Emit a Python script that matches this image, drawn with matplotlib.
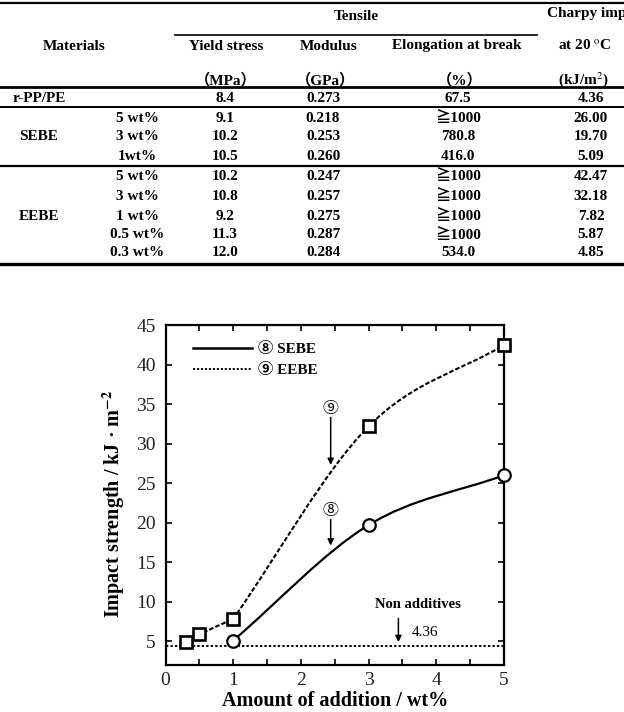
import numpy as np
import matplotlib
matplotlib.use('Agg')
import matplotlib.pyplot as plt
from matplotlib.path import Path
from matplotlib.patches import PathPatch
from matplotlib.lines import Line2D
from matplotlib.ticker import MultipleLocator

SERIF = ['Liberation Serif', 'Noto Sans CJK JP', 'DejaVu Sans']
plt.rcParams['font.family'] = SERIF
plt.rcParams['mathtext.fontset'] = 'stix'

# ---- table data ----
group_labels = ['r-PP/PE', 'SEBE', 'EEBE']
sub_labels = ['', '5 wt%', '3 wt%', '1wt%', '5 wt%', '3 wt%', '1 wt%', '0.5 wt%', '0.3 wt%']
yield_stress = ['8.4', '9.1', '10.2', '10.5', '10.2', '10.8', '9.2', '11.3', '12.0']
modulus = ['0.273', '0.218', '0.253', '0.260', '0.247', '0.257', '0.275', '0.287', '0.284']
elongation = ['67.5', '≧1000', '780.8', '416.0', '≧1000', '≧1000', '≧1000', '≧1000', '534.0']
charpy = ['4.36', '26.00', '19.70', '5.09', '42.47', '32.18', '7.82', '5.87', '4.85']

# ---- chart data ----
sebe_x = [1, 3, 5]
sebe_y = [5.09, 19.70, 26.00]
eebe_x = [0.3, 0.5, 1, 3, 5]
eebe_y = [4.85, 5.87, 7.82, 32.18, 42.47]
base_value = 4.36

W, H = 624, 712
fig = plt.figure(figsize=(W / 100, H / 100), dpi=100)


def ftxt(x, y, s, ha='center', size=11, weight='bold'):
    fig.text(x / W, 1 - y / H, s, ha=ha, va='center', fontsize=size,
             fontweight=weight, family=SERIF)


def hline(y, x0=0, x1=W, lw=1.5):
    fig.add_artist(Line2D([x0 / W, x1 / W], [1 - y / H, 1 - y / H],
                          color='black', lw=lw, transform=fig.transFigure))


# table lines
hline(3, lw=1.6)
hline(35, 175, 537, lw=1.2)
hline(87, lw=2.0)
hline(107, lw=1.4)
hline(166, lw=1.6)
hline(264, lw=2.4)

# headers (the Charpy header runs off the right edge, as in the source)
ftxt(356, 17, 'Tensile')
ftxt(547, 14, 'Charpy impact strength', ha='left')
ftxt(74, 46, 'Materials')
ftxt(226, 46, 'Yield stress')
ftxt(329, 46, 'Modulus')
ftxt(457, 46, 'Elongation at break')
ftxt(585, 46, 'at 20 $^{\\mathrm{o}}$C')
ftxt(226, 80, '（MPa）')
ftxt(325, 80, '（GPa）')
ftxt(460, 80, '（%）')
ftxt(583, 80, '(kJ/m$^{2}$)')

row_y = [99, 118, 137, 157, 176, 196, 216, 235, 253]
group_y = [99, 137, 216]
for g, gy in zip(group_labels, group_y):
    ftxt(39, gy, g)
for i, ry in enumerate(row_y):
    ftxt(137, ry, sub_labels[i])
    ftxt(225, ry, yield_stress[i])
    ftxt(323, ry, modulus[i])
    ftxt(458, ry, elongation[i])
    ftxt(591, ry, charpy[i])

# ---- chart ----
ax = fig.add_axes([165.5 / W, 47 / H, 338.5 / W, 340 / H])


def smooth_path(xs, ys):
    xs = np.asarray(xs, float)
    ys = np.asarray(ys, float)
    n = len(xs)
    m = np.empty(n)
    m[0] = (ys[1] - ys[0]) / (xs[1] - xs[0])
    m[-1] = (ys[-1] - ys[-2]) / (xs[-1] - xs[-2])
    m[1:-1] = (ys[2:] - ys[:-2]) / (xs[2:] - xs[:-2])
    verts = [(xs[0], ys[0])]
    codes = [Path.MOVETO]
    for i in range(n - 1):
        h = (xs[i + 1] - xs[i]) / 3
        verts += [(xs[i] + h, ys[i] + h * m[i]),
                  (xs[i + 1] - h, ys[i + 1] - h * m[i + 1]),
                  (xs[i + 1], ys[i + 1])]
        codes += [Path.CURVE4] * 3
    return Path(verts, codes)


eebe_dash = (0, (2.2, 1.0))
ax.add_patch(PathPatch(smooth_path(sebe_x, sebe_y), fill=False, lw=1.6,
                       ec='black', zorder=2))
# EEBE curve has a kink at 1 wt%
ax.add_patch(PathPatch(smooth_path(eebe_x[:3], eebe_y[:3]), fill=False, lw=1.5,
                       ec='black', ls=eebe_dash, zorder=2))
ax.add_patch(PathPatch(smooth_path(eebe_x[2:], eebe_y[2:]), fill=False, lw=1.5,
                       ec='black', ls=eebe_dash, zorder=2))
ax.plot(sebe_x, sebe_y, 'o', ms=9, mfc='white', mec='black', mew=1.6,
        zorder=3, clip_on=False)
ax.plot(eebe_x, eebe_y, 's', ms=8.5, mfc='white', mec='black', mew=1.9,
        zorder=3, clip_on=False)
ax.axhline(base_value, color='black', lw=1.4, ls=(0, (1.2, 1.1)), zorder=1)

ax.set_xlim(0, 5)
ax.set_ylim(2, 45)
ax.xaxis.set_major_locator(MultipleLocator(1))
ax.xaxis.set_minor_locator(MultipleLocator(0.5))
ax.set_yticks([5, 10, 15, 20, 25, 30, 35, 40, 45])
ax.tick_params(which='both', direction='in', top=True, right=True,
               length=4.5, width=1.2)
ax.tick_params(which='major', labelsize=14, labelcolor='#222222')
ax.tick_params(axis='y', pad=7)
ax.tick_params(axis='x', pad=5)
for s in ax.spines.values():
    s.set_linewidth(1.6)

ax.set_xlabel('Amount of addition / wt%', fontsize=14.5, fontweight='bold')
ax.set_ylabel('Impact strength / kJ · m$^{\\mathbf{-2}}$', fontsize=14.5,
              fontweight='bold')
ax.xaxis.set_label_coords(0.5, -0.075)
ax.yaxis.set_label_coords(-0.113, 0.475)

handles = [Line2D([], [], color='black', lw=1.8),
           Line2D([], [], color='black', lw=1.3, ls=(0, (1.2, 1.0)))]
ax.legend(handles, ['⑧ SEBE', '⑨ EEBE'], loc='upper left',
          bbox_to_anchor=(0.04, 0.99), frameon=False, handlelength=3.9,
          handletextpad=0.35, labelspacing=0.45,
          prop=dict(family=SERIF, weight='bold', size=11))

arrow = dict(arrowstyle='-|>', color='black', lw=1.1, mutation_scale=9,
             shrinkA=0, shrinkB=0)
ax.text(2.44, 34.4, '⑨', ha='center', va='center', fontsize=11.5)
ax.annotate('', xy=(2.44, 27.3), xytext=(2.44, 33.3), arrowprops=arrow)
ax.text(2.44, 21.5, '⑧', ha='center', va='center', fontsize=11.5)
ax.annotate('', xy=(2.44, 17.1), xytext=(2.44, 20.4), arrowprops=arrow)
ax.text(3.73, 9.6, 'Non additives', ha='center', va='center', fontsize=10.5,
        fontweight='bold')
ax.annotate('', xy=(3.44, 4.9), xytext=(3.44, 7.9), arrowprops=arrow)
ax.text(3.63, 6.1, '4.36', ha='left', va='center', fontsize=11)

fig.savefig('out.png', dpi=100)
